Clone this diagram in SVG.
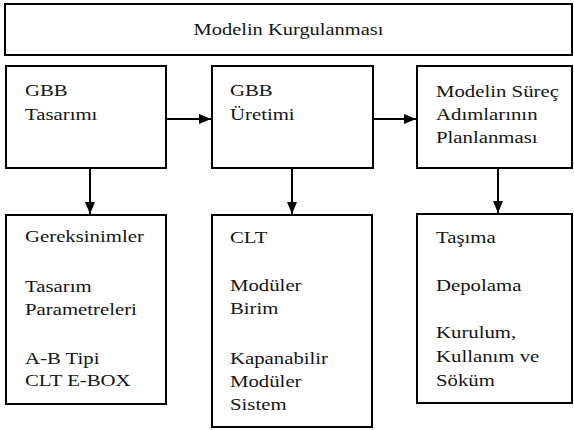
<svg xmlns="http://www.w3.org/2000/svg" width="574" height="430" viewBox="0 0 574 430">
<defs>
<style>
.box{fill:#fff;stroke:#000;stroke-width:2}
.t{font-family:'Liberation Serif','Times New Roman',serif;font-size:16.5px;fill:#151515}
.c{stroke:#000;stroke-width:2;fill:none}
</style>
<marker id="ah" viewBox="0 0 12 10" refX="12" refY="5" markerWidth="12" markerHeight="10" markerUnits="userSpaceOnUse" orient="auto">
<path d="M0,0 L12,5 L0,10 Z" fill="#000"/>
</marker>
</defs>
<rect width="574" height="430" fill="#fff"/>
<g id="top">
<rect class="box" x="5" y="4" width="567" height="51"/>
<text class="t" transform="translate(288.5,35) scale(1.24,1)" text-anchor="middle">Modelin Kurgulanması</text>
</g>
<g id="gbb-tasarimi">
<rect class="box" x="6" y="66" width="160" height="102"/>
<text class="t" transform="translate(25,96) scale(1.26,1)"><tspan x="0" y="0">GBB</tspan><tspan x="0" y="24">Tasarımı</tspan></text>
</g>
<g id="gbb-uretimi">
<rect class="box" x="212" y="66" width="161" height="102"/>
<text class="t" transform="translate(230,96) scale(1.26,1)"><tspan x="0" y="0">GBB</tspan><tspan x="0" y="24">Üretimi</tspan></text>
</g>
<g id="surec">
<rect class="box" x="417" y="66" width="155" height="102"/>
<text class="t" transform="translate(436,97) scale(1.26,1)"><tspan x="0" y="0">Modelin Süreç</tspan><tspan x="0" y="23">Adımlarının</tspan><tspan x="0" y="46">Planlanması</tspan></text>
</g>
<g id="gereksinimler">
<rect class="box" x="6" y="215" width="160" height="189"/>
<text class="t" transform="translate(25,242) scale(1.26,1)"><tspan x="0" y="0">Gereksinimler</tspan><tspan x="0" y="50">Tasarım</tspan><tspan x="0" y="73">Parametreleri</tspan><tspan x="0" y="122">A-B Tipi</tspan><tspan x="0" y="144">CLT E-BOX</tspan></text>
</g>
<g id="clt">
<rect class="box" x="212" y="215" width="160" height="212"/>
<text class="t" transform="translate(230,243) scale(1.26,1)"><tspan x="0" y="0">CLT</tspan><tspan x="0" y="48">Modüler</tspan><tspan x="0" y="71">Birim</tspan><tspan x="0" y="121">Kapanabilir</tspan><tspan x="0" y="144">Modüler</tspan><tspan x="0" y="167">Sistem</tspan></text>
</g>
<g id="tasima">
<rect class="box" x="417" y="214" width="155" height="189"/>
<text class="t" transform="translate(436,243) scale(1.26,1)"><tspan x="0" y="0">Taşıma</tspan><tspan x="0" y="48">Depolama</tspan><tspan x="0" y="95">Kurulum,</tspan><tspan x="0" y="119">Kullanım ve</tspan><tspan x="0" y="143">Söküm</tspan></text>
</g>
<g id="connectors">
<line class="c" x1="167" y1="119" x2="211" y2="119" marker-end="url(#ah)"/>
<line class="c" x1="374" y1="119" x2="416" y2="119" marker-end="url(#ah)"/>
<line class="c" x1="90" y1="169" x2="90" y2="214" marker-end="url(#ah)"/>
<line class="c" x1="292" y1="169" x2="292" y2="214" marker-end="url(#ah)"/>
<line class="c" x1="498" y1="169" x2="498" y2="213" marker-end="url(#ah)"/>
</g>
</svg>
